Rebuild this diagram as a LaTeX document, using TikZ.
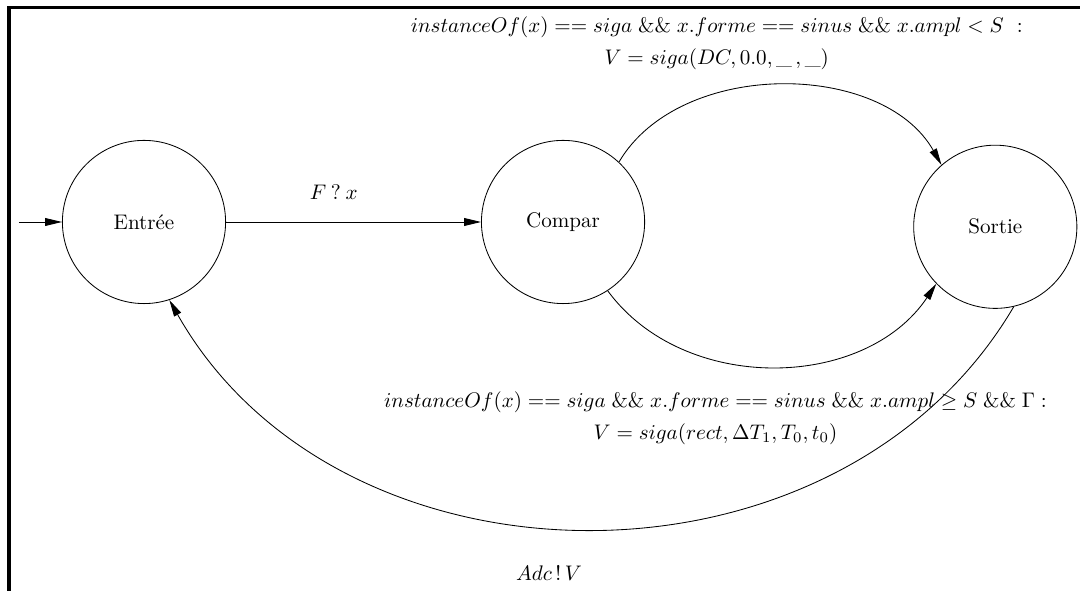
\documentclass[tikz,border=0pt]{standalone}
\usepackage{tikz}
\usepackage{amsmath}
\usetikzlibrary{arrows.meta,positioning}

\begin{document}
\begin{tikzpicture}[
  state/.style={circle, draw, thin, minimum size=2.72cm, inner sep=0pt},
  link/.style={-{Triangle[length=2.8mm, width=1.3mm]}, thin},
  guard/.style={align=center},
]
  \useasboundingbox (0,0) rectangle (18,9.85);

  % Frame
  \draw[line width=1.6pt] (0.15,0) -- (0.15,9.73) -- (18,9.73);

  % States
  \node[state] (entree) at (2.4,6.15) {Entrée};
  \node[state, right=4.25cm of entree] (compar) {Compar};
  \node[state, right=4.47cm of compar, yshift=-0.08cm] (sortie) {Sortie};
  \coordinate[left=0.72cm of entree] (start);

  % Transitions
  \draw[link] (start) -- (entree);
  \draw[link] (entree) -- (compar) node[midway, above=0.25cm, xshift=-0.33cm] {$F \mathbin{?} x$};
  \draw[link] (compar.47) to[bend left=60, looseness=0.95] node[midway, above=4pt, xshift=-1.07cm, guard] {
    $instanceOf(x) == siga \mathrel{\&\&} x.forme == sinus \mathrel{\&\&} x.ampl < S\ :$\\[3pt]
    $V = siga(DC, 0.0, \_\,, \_)$
  } (sortie.131);
  \draw[link] (compar.-57) to[bend right=55, looseness=1] node[midway, below=0.3cm, xshift=-0.97cm, guard] {
    $instanceOf(x) == siga \mathrel{\&\&} x.forme == sinus \mathrel{\&\&} x.ampl \geq S \mathrel{\&\&} \Gamma :$\\[3pt]
    $V = siga(rect, \Delta T_1, T_0, t_0)$
  } (sortie.-136);
  \draw[link] (sortie.-77) to[bend left=60, looseness=1.05] node[midway, below=0.5cm, xshift=-0.68cm] {$Adc \,!\, V$} (entree.-72);
\end{tikzpicture}
\end{document}
